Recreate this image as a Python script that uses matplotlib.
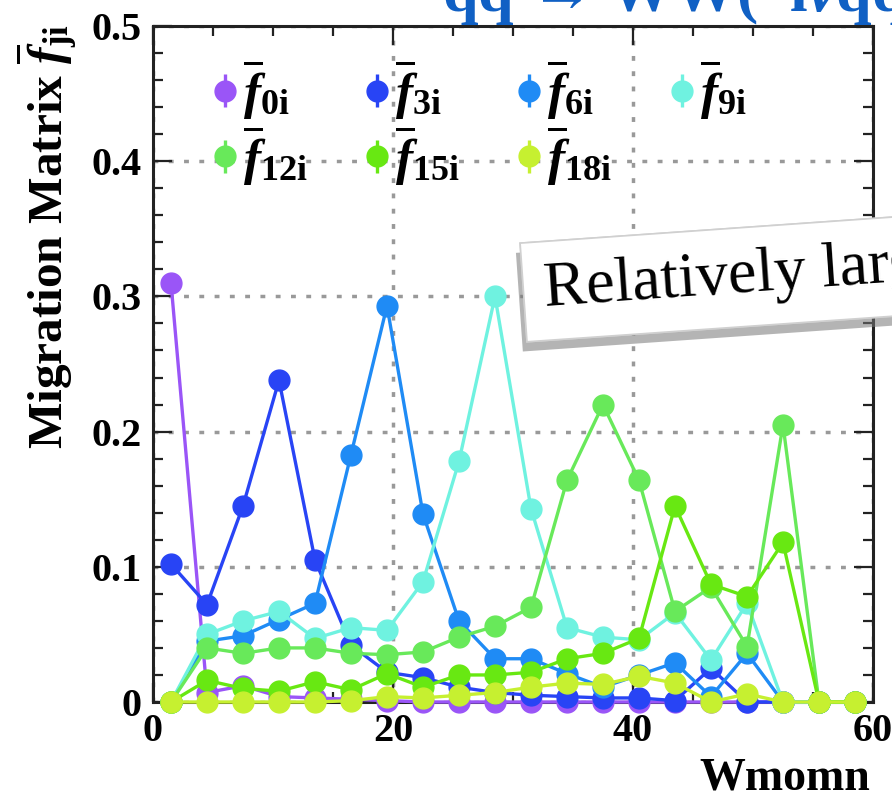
import numpy as np
import matplotlib
matplotlib.use('Agg')
import matplotlib.pyplot as plt
from matplotlib.ticker import FixedLocator, FixedFormatter, MultipleLocator
from matplotlib.legend_handler import HandlerErrorbar
from matplotlib.container import ErrorbarContainer
import matplotlib.patheffects as pe

plt.rcParams['font.family'] = ['Liberation Serif', 'DejaVu Serif']
plt.rcParams['font.weight'] = 'bold'
plt.rcParams['mathtext.fontset'] = 'custom'
plt.rcParams['mathtext.rm'] = 'Liberation Serif:bold'
plt.rcParams['mathtext.it'] = 'Liberation Serif:italic:bold'
plt.rcParams['mathtext.bf'] = 'Liberation Serif:bold'

# centros de bin en Wmomn
wmomn = [1.5, 4.5, 7.5, 10.5, 13.5, 16.5, 19.5, 22.5, 25.5, 28.5,
         31.5, 34.5, 37.5, 40.5, 43.5, 46.5, 49.5, 52.5, 55.5, 58.5]

# filas de la matriz de migracion
f0 = [0.310, 0.007, 0.012, 0.004, 0.003, 0.002, 0.001, 0.000, 0.000, 0.000,
      0.000, 0.000, 0.000, 0.000, 0.000, 0.000, 0.000, 0.000, 0.000, 0.000]
f3 = [0.102, 0.072, 0.145, 0.238, 0.105, 0.042, 0.022, 0.018, 0.011, 0.007,
      0.005, 0.004, 0.003, 0.003, 0.001, 0.025, 0.000, 0.000, 0.000, 0.000]
f6 = [0.000, 0.045, 0.049, 0.061, 0.073, 0.183, 0.293, 0.139, 0.060, 0.032,
      0.032, 0.021, 0.011, 0.020, 0.029, 0.004, 0.036, 0.000, 0.000, 0.000]
f9 = [0.000, 0.050, 0.060, 0.067, 0.047, 0.055, 0.053, 0.089, 0.178, 0.300,
      0.143, 0.055, 0.048, 0.046, 0.066, 0.031, 0.073, 0.000, 0.000, 0.000]
f12 = [0.000, 0.040, 0.036, 0.040, 0.040, 0.036, 0.035, 0.037, 0.048, 0.056,
       0.070, 0.164, 0.220, 0.164, 0.067, 0.085, 0.041, 0.205, 0.000, 0.000]
f15 = [0.000, 0.016, 0.010, 0.008, 0.015, 0.009, 0.021, 0.011, 0.020, 0.020,
       0.022, 0.032, 0.036, 0.047, 0.145, 0.087, 0.078, 0.118, 0.000, 0.000]
f18 = [0.000, 0.000, 0.000, 0.000, 0.000, 0.001, 0.004, 0.003, 0.005, 0.007,
       0.011, 0.014, 0.013, 0.019, 0.014, 0.000, 0.006, 0.000, 0.000, 0.000]

series = [f0, f3, f6, f9, f12, f15, f18]
labels = [r'$\overline{f}_{\mathrm{0i}}$', r'$\overline{f}_{\mathrm{3i}}$',
          r'$\overline{f}_{\mathrm{6i}}$', r'$\overline{f}_{\mathrm{9i}}$',
          r'$\overline{f}_{\mathrm{12i}}$', r'$\overline{f}_{\mathrm{15i}}$',
          r'$\overline{f}_{\mathrm{18i}}$']
colors = ['#9a55f7', '#2844f5', '#1f8bf5', '#6ff2e0', '#68e95a', '#68e812', '#c6f030']

x_ticks = [0, 20, 40, 60]
x_tick_labels = ['0', '20', '40', '60']
y_ticks = [0, 0.1, 0.2, 0.3, 0.4, 0.5]
y_tick_labels = ['0', '0.1', '0.2', '0.3', '0.4', '0.5']

fig = plt.figure(figsize=(8.92, 8.11), dpi=100)
ax = fig.add_axes([153/892, 1 - 702/811, 720/892, 676/811])

for vals, c in zip(series, colors):
    ax.plot(wmomn, vals, '-o', color=c, lw=2.4, ms=15, clip_on=False, zorder=3)

ax.set_xlim(0, 60)
ax.set_ylim(0, 0.5)

ax.xaxis.set_major_locator(FixedLocator(x_ticks))
ax.xaxis.set_major_formatter(FixedFormatter(x_tick_labels))
ax.xaxis.set_minor_locator(MultipleLocator(5))
ax.yaxis.set_major_locator(FixedLocator(y_ticks))
ax.yaxis.set_major_formatter(FixedFormatter(y_tick_labels))
ax.yaxis.set_minor_locator(MultipleLocator(0.02))

ax.tick_params(which='both', direction='in', top=True, right=True, width=1.6, color='#222222')
ax.tick_params(which='major', length=14, labelsize=29, pad=8)
ax.tick_params(which='minor', length=7)
for s in ax.spines.values():
    s.set_linewidth(2.2)
    s.set_color('#222222')

ax.grid(True, which='major', color='#999999', lw=2.5, linestyle=(0, (1.4, 3.0)))
ax.set_axisbelow(True)

# leyenda: solo marcador con barra de error
proxies = []
for c in colors:
    h = ax.errorbar([], [], yerr=[], fmt='o', color=c, ms=15, elinewidth=2.4)
    proxies.append(h)
order = [0, 4, 1, 5, 2, 6, 3]
leg = ax.legend([proxies[i] for i in order], [labels[i] for i in order],
                ncol=4, loc='upper left', bbox_to_anchor=(0.05, 0.984),
                frameon=False, fontsize=37, handlelength=0.6, handletextpad=0.05,
                columnspacing=1.05, labelspacing=0.02, borderaxespad=0,
                handler_map={ErrorbarContainer: HandlerErrorbar(xerr_size=0.32)})

# etiquetas de ejes
fig.text(47/892, 1 - 24/811, r'Migration Matrix $\overline{f}_{\mathrm{ji}}$',
         rotation=90, ha='center', va='top', fontsize=35.5, fontweight='bold')
fig.text(870/892, 1 - 778/811, 'Wmomn', ha='right', va='center',
         fontsize=33, fontweight='bold')

# titulo cortado arriba
fig.text(442/892, 1 - 11/811, r'qq → WW(  l$\mathit{\nu}$qq)', ha='left', va='baseline',
         fontsize=46, fontweight='bold', color='#1060c4')

# recuadro superpuesto
t = fig.text(545/892, 1 - 306/811, 'Relatively large', ha='left', va='baseline',
             rotation=4, rotation_mode='anchor', fontsize=46, fontweight='normal',
             color='black', zorder=10,
             bbox=dict(boxstyle='square,pad=0.32', fc='white', ec='#d0d0d0', lw=1.2))
t.get_bbox_patch().set_path_effects([
    pe.withSimplePatchShadow(offset=(-3, -7), shadow_rgbFace='#777777', alpha=0.55),
    pe.Normal()])

fig.savefig('out.png', dpi=100)
